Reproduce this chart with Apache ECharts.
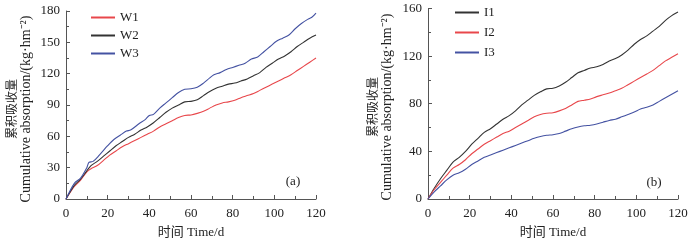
<!DOCTYPE html>
<html>
<head>
<meta charset="utf-8">
<script src="https://cdn.jsdelivr.net/npm/echarts@6/dist/echarts.min.js"></script>
<style>
  html, body { margin: 0; padding: 0; background: #fff; }
  #main { width: 700px; height: 244px; }
</style>
</head>
<body>
<div id="main"></div>
<script>
// days (x values)
var daysA = [0, 4, 7, 10, 11, 13, 16, 20, 23, 26, 29, 31, 35, 38, 40, 42, 45, 48, 51, 54, 57, 60, 63, 66, 69, 71, 74, 77, 80, 83, 86, 89, 92, 95, 98, 101, 104, 107, 110, 113, 116, 118, 120];
var W3 = [0, 15, 20, 30, 35, 36, 42, 51, 57, 61, 65, 66, 72, 76, 80, 81, 87, 92, 97, 102, 105, 105.5, 107, 111, 116, 119, 121, 124, 126, 128, 130, 134, 136, 141, 146, 151, 154, 157, 163, 168, 172, 174, 178];

var daysB = [0, 4, 7, 10, 12, 15, 18, 21, 24, 27, 30, 33, 36, 39, 42, 45, 48, 51, 54, 57, 60, 63, 66, 69, 72, 75, 78, 81, 84, 87, 90, 93, 96, 99, 102, 105, 108, 111, 114, 117, 120];
var W2 = [0, 13, 19, 27, 32, 36, 41, 46, 51, 55, 59, 62, 66, 69, 73, 78, 83, 87, 90, 93, 93.5, 95, 99, 103, 106, 108, 110, 111, 113, 115, 118, 121, 126, 130, 134, 137, 141, 146, 150, 154, 157];
var W1 = [0, 12, 18, 26, 29, 32, 37, 42, 46, 50, 53, 56, 59, 62, 65, 69, 72, 75, 78, 80, 80.5, 82, 84, 87, 90, 92, 93, 94.5, 97, 99, 101, 104, 107, 110, 113, 116, 119, 123, 127, 131, 135];

var daysC = [0, 3, 6, 9, 12, 15, 18, 21, 24, 27, 30, 33, 36, 39, 42, 45, 48, 51, 54, 57, 60, 63, 66, 69, 72, 75, 78, 81, 84, 87, 90, 93, 96, 99, 102, 105, 108, 111, 114, 117, 120];
var I1 = [0, 9, 17, 24, 31, 35, 40, 46, 51, 56, 59, 63, 67, 70, 74, 79, 83, 87, 90, 92.5, 93, 95, 98, 102, 106, 108, 110, 111, 113, 116, 118, 121, 125, 130, 134, 137, 141, 145, 150, 154, 157];
var I2 = [0, 8, 14, 20, 26, 29, 33, 38, 42, 46, 49, 52, 55, 57, 60, 63, 66, 69, 71, 72, 72.5, 74, 76, 79, 82, 83, 84, 86, 87.5, 89, 91, 93, 96, 99, 102, 105, 108, 112, 116, 119, 122];
var I3 = [0, 6, 11, 16, 20, 22, 25, 29, 32, 35, 37, 39, 41, 43, 45, 47, 49, 51, 52.5, 53.5, 54, 55, 57, 59, 60.5, 61.5, 62, 63, 64.5, 66, 67, 69, 71, 73, 75.5, 77, 79, 82, 85, 88, 91];

function pairs(xs, ys) {
    var out = [];
    for (var i = 0; i < xs.length; i++) out.push([xs[i], ys[i]]);
    return out;
}

var serif = '"Liberation Serif", "Times New Roman", "Noto Sans CJK SC", serif';
var axisColor = '#555';
var red = '#e8474b', black = '#333', blue = '#4452a2';

function xAxis(idx) {
    return {
        type: 'value', gridIndex: idx, min: 0, max: 120, interval: 20,
        axisLine: { lineStyle: { color: axisColor, width: 1 } },
        axisTick: { inside: true, length: 4, lineStyle: { color: axisColor } },
        minorTick: { show: true, splitNumber: 2, length: 3, lineStyle: { color: axisColor } },
        axisLabel: { color: '#222', fontFamily: serif, fontSize: 13, margin: 8 },
        splitLine: { show: false },
        name: '时间 Time/d', nameLocation: 'middle', nameGap: 27,
        nameTextStyle: { color: '#222', fontFamily: serif, fontSize: 13 }
    };
}
function yAxis(idx, max, interval) {
    return {
        type: 'value', gridIndex: idx, min: 0, max: max, interval: interval,
        axisLine: { show: true, lineStyle: { color: axisColor, width: 1 } },
        axisTick: { show: true, inside: true, length: 4, lineStyle: { color: axisColor } },
        minorTick: { show: true, splitNumber: 2, length: 3, lineStyle: { color: axisColor } },
        axisLabel: { color: '#222', fontFamily: serif, fontSize: 13, margin: 6 },
        splitLine: { show: false }
    };
}
function line(name, idx, data, color) {
    return {
        name: name, type: 'line', xAxisIndex: idx, yAxisIndex: idx,
        data: data, symbol: 'none', smooth: 0.3,
        lineStyle: { color: color, width: 1.1 }, itemStyle: { color: color }
    };
}
function legend(left, top, gap, names) {
    return {
        orient: 'vertical', left: left, top: top, itemGap: gap,
        icon: 'rect', itemWidth: 24, itemHeight: 2, data: names,
        textStyle: { color: '#222', fontFamily: serif, fontSize: 13, lineHeight: 15 }
    };
}
function yName(x, y, cn, en) {
    return [
        { type: 'text', x: x, y: y, rotation: Math.PI / 2,
          style: { text: cn, fill: '#222', font: '12px "Noto Sans CJK SC"', align: 'center', verticalAlign: 'middle' } },
        { type: 'text', x: x + 15, y: y, rotation: Math.PI / 2,
          style: { text: en, fill: '#222', font: '14px ' + serif, align: 'center', verticalAlign: 'middle' } }
    ];
}

var myChart = echarts.init(document.getElementById('main'));
var option = {
    animation: false,
    grid: [
        { left: 66, top: 11, width: 250, height: 196 },
        { left: 428, top: 8.5, width: 250, height: 196.5 }
    ],
    xAxis: [xAxis(0), xAxis(1)],
    yAxis: [yAxis(0, 180, 30), yAxis(1, 160, 40)],
    legend: [
        legend(86, 5, 3, ['W1', 'W2', 'W3']),
        legend(450, 0, 5, ['I1', 'I2', 'I3'])
    ],
    series: [
        line('W1', 0, pairs(daysB, W1), red),
        line('W2', 0, pairs(daysB, W2), black),
        line('W3', 0, pairs(daysA, W3), blue),
        line('I1', 1, pairs(daysC, I1), black),
        line('I2', 1, pairs(daysC, I2), red),
        line('I3', 1, pairs(daysC, I3), blue)
    ],
    graphic: yName(11.5, 109, '累积吸收量', 'Cumulative absorption/(kg·hm⁻²)')
        .concat(yName(372, 107, '累积吸收量', 'Cumulative absorption/(kg·hm⁻²)'))
        .concat([
            { type: 'text', x: 293, y: 182, style: { text: '(a)', fill: '#222', font: '13px ' + serif, align: 'center', verticalAlign: 'middle' } },
            { type: 'text', x: 654, y: 183, style: { text: '(b)', fill: '#222', font: '13px ' + serif, align: 'center', verticalAlign: 'middle' } }
        ])
};
option && myChart.setOption(option);
window.onresize = myChart.resize;
</script>
</body>
</html>
